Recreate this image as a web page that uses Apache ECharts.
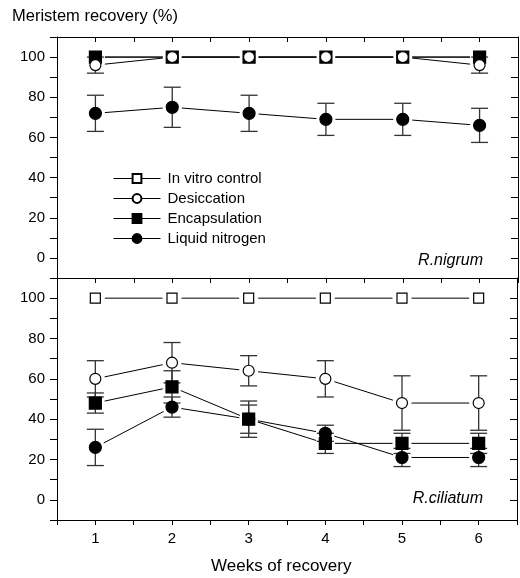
<!DOCTYPE html>
<html>
<head>
<meta charset="utf-8">
<script src="https://cdn.jsdelivr.net/npm/echarts@6/dist/echarts.min.js"></script>
<style>
  html, body { margin: 0; padding: 0; background: #fff; }
  #chart { width: 520px; height: 578px; }
</style>
</head>
<body>
<div id="chart"></div>
<script>
// weeks of recovery
const weeks = [1, 2, 3, 4, 5, 6];
const seriesNames = ["In vitro control", "Desiccation", "Encapsulation", "Liquid nitrogen"];

// R.nigrum (top panel)
const nigControl = [100, 100, 100, 100, 100, 100];
const nigDesic = [96, 100, 100, 100, 100, 96];
const nigDesicErr = [4, 0, 0, 0, 0, 4];
const nigEncap = [100, 100, 100, 100, 100, 100];
const nigLN = [72, 75, 72, 69, 69, 66];
const nigLNErr = [9, 10, 9, 8, 8, 8.5];

// R.ciliatum (bottom panel)
const cilControl = [100, 100, 100, 100, 100, 100];
const cilDesic = [60, 68, 64, 60, 48, 48];
const cilDesicErr = [9, 10, 7.5, 9, 13.5, 13.5];
const cilEncap = [48, 56, 40, 28, 28, 28];
const cilEncapErr = [5, 8, 7, 5, 5, 5];
const cilLN = [26, 46, 40, 33, 21, 21];
const cilLNErr = [9, 5, 9, 4, 4.5, 4.5];

const yTickLabels = [0, 20, 40, 60, 80, 100];
const xTickLabels = [1, 2, 3, 4, 5, 6];

const FONT = "Liberation Sans, Arial, sans-serif";

const chart = echarts.init(document.getElementById("chart"), null, { renderer: "canvas" });

const markerStyle = {
  "In vitro control": { symbol: "rect", size: 10, color: "#fff" },
  "Desiccation": { symbol: "circle", size: 11, color: "#fff" },
  "Encapsulation": { symbol: "rect", size: 12, color: "#000" },
  "Liquid nitrogen": { symbol: "circle", size: 12, color: "#000" },
};

const pairs = (vals) => weeks.map((w, i) => [w, vals[i]]);

// segments between neighbouring points, drawn with a small gap at each marker
function segments(vals) {
  const out = [];
  for (let i = 0; i < weeks.length - 1; i++) {
    out.push([weeks[i], vals[i], weeks[i + 1], vals[i + 1]]);
  }
  return out;
}

function errRows(vals, errs) {
  return weeks.map((w, i) => [w, vals[i], errs[i]]);
}

const GAP = 9.5;
function renderSegment(params, api) {
  const p1 = api.coord([api.value(0), api.value(1)]);
  const p2 = api.coord([api.value(2), api.value(3)]);
  const dx = p2[0] - p1[0], dy = p2[1] - p1[1];
  const len = Math.hypot(dx, dy);
  if (len < 2 * GAP) return null;
  const ux = dx / len, uy = dy / len;
  return {
    type: "line",
    shape: {
      x1: p1[0] + ux * GAP, y1: p1[1] + uy * GAP,
      x2: p2[0] - ux * GAP, y2: p2[1] - uy * GAP,
    },
    style: { stroke: "#000", lineWidth: 1 },
  };
}

const CAP = 8.5;
function renderErr(params, api) {
  const x = api.value(0), m = api.value(1), e = api.value(2);
  const hi = Math.min(m + e, 100), lo = m - e;
  const pm = api.coord([x, m]);
  const children = [];
  const style = { stroke: "#333", lineWidth: 1.3 };
  [hi, lo].forEach((v) => {
    if (v === m) return;
    const p = api.coord([x, v]);
    children.push({ type: "line", shape: { x1: pm[0], y1: pm[1], x2: p[0], y2: p[1] }, style });
    children.push({ type: "line", shape: { x1: p[0] - CAP, y1: p[1], x2: p[0] + CAP, y2: p[1] }, style });
  });
  return { type: "group", children };
}

function markerSeries(name, vals, axisIdx) {
  const st = markerStyle[name];
  return {
    name,
    type: "line",
    xAxisIndex: axisIdx,
    yAxisIndex: axisIdx,
    data: pairs(vals),
    symbol: st.symbol,
    symbolSize: st.size,
    showSymbol: true,
    lineStyle: { opacity: 0, width: 1, color: "#000" },
    itemStyle: { color: st.color, borderColor: "#000", borderWidth: 1.2, opacity: 1 },
    emphasis: { disabled: true },
    z: 5,
  };
}

function panelSeries(axisIdx, control, desic, encap, ln, errs) {
  const list = [];
  errs.forEach(([vals, e]) => {
    list.push({
      type: "custom", xAxisIndex: axisIdx, yAxisIndex: axisIdx,
      renderItem: renderErr, data: errRows(vals, e), z: 2, silent: true,
      encode: { x: 0, y: 1 },
    });
  });
  [control, encap, desic, ln].forEach((vals) => {
    list.push({
      type: "custom", xAxisIndex: axisIdx, yAxisIndex: axisIdx,
      renderItem: renderSegment, data: segments(vals), z: 3, silent: true,
      encode: { x: [0, 2], y: [1, 3] },
    });
  });
  list.push(markerSeries("In vitro control", control, axisIdx));
  list.push(markerSeries("Encapsulation", encap, axisIdx));
  list.push(markerSeries("Desiccation", desic, axisIdx));
  list.push(markerSeries("Liquid nitrogen", ln, axisIdx));
  return list;
}

const axisLine = { show: true, onZero: false, lineStyle: { color: "#000", width: 1 } };

function xAx(grid, position, showLabel, inside) {
  return {
    type: "value", gridIndex: grid, position,
    min: 0.5, max: 6.5, interval: 0.5,
    axisLine, splitLine: { show: false },
    axisTick: { show: true, inside, length: 5, lineStyle: { color: "#000" } },
    axisLabel: {
      show: showLabel, color: "#000", fontSize: 15, fontFamily: FONT, margin: 11,
      formatter: (v) => (xTickLabels.includes(v) ? String(v) : ""),
    },
  };
}

function yAx(grid, position, showLabel, inside) {
  return {
    type: "value", gridIndex: grid, position,
    min: -10, max: 110, interval: 10,
    axisLine, splitLine: { show: false },
    axisTick: { show: true, inside, length: 7, lineStyle: { color: "#000" } },
    axisLabel: {
      show: showLabel, color: "#000", fontSize: 15, fontFamily: FONT, margin: 12,
      formatter: (v) => (yTickLabels.includes(v) ? String(v) : ""),
    },
  };
}

const option = {
  animation: false,
  backgroundColor: "#fff",
  grid: [
    { left: 57, top: 37, width: 461, height: 241 },
    { left: 57, top: 278, width: 461, height: 242 },
  ],
  xAxis: [
    xAx(0, "bottom", false, false),
    xAx(0, "top", false, true),
    xAx(1, "bottom", true, false),
  ],
  yAxis: [
    yAx(0, "left", true, false),
    yAx(0, "right", false, true),
    yAx(1, "left", true, false),
    yAx(1, "right", false, true),
  ],
  legend: {
    data: seriesNames,
    orient: "vertical",
    left: 113, top: 171, padding: 0,
    itemWidth: 47, itemHeight: 11, itemGap: 5,
    selectedMode: false,
    lineStyle: { opacity: 1, color: "#000", width: 1 },
    textStyle: { color: "#000", fontSize: 15, fontFamily: FONT, padding: [0, 0, 0, 2] },
  },
  graphic: [
    { type: "text", left: 12, top: 8, style: { text: "Meristem recovery (%)", fill: "#000", font: "16.5px " + FONT } },
    { type: "text", right: 37, top: 253, style: { text: "R.nigrum", fill: "#000", font: "italic 16px " + FONT } },
    { type: "text", right: 37, top: 491, style: { text: "R.ciliatum", fill: "#000", font: "italic 16px " + FONT } },
    { type: "text", left: 211, top: 558, style: { text: "Weeks of recovery", fill: "#000", font: "17px " + FONT } },
  ],
  series: [
    ...panelSeries(0, nigControl, nigDesic, nigEncap, nigLN,
      [[nigDesic, nigDesicErr], [nigLN, nigLNErr]]),
    ...panelSeries(2, cilControl, cilDesic, cilEncap, cilLN,
      [[cilDesic, cilDesicErr], [cilEncap, cilEncapErr], [cilLN, cilLNErr]]),
  ],
};

chart.setOption(option);
</script>
</body>
</html>
